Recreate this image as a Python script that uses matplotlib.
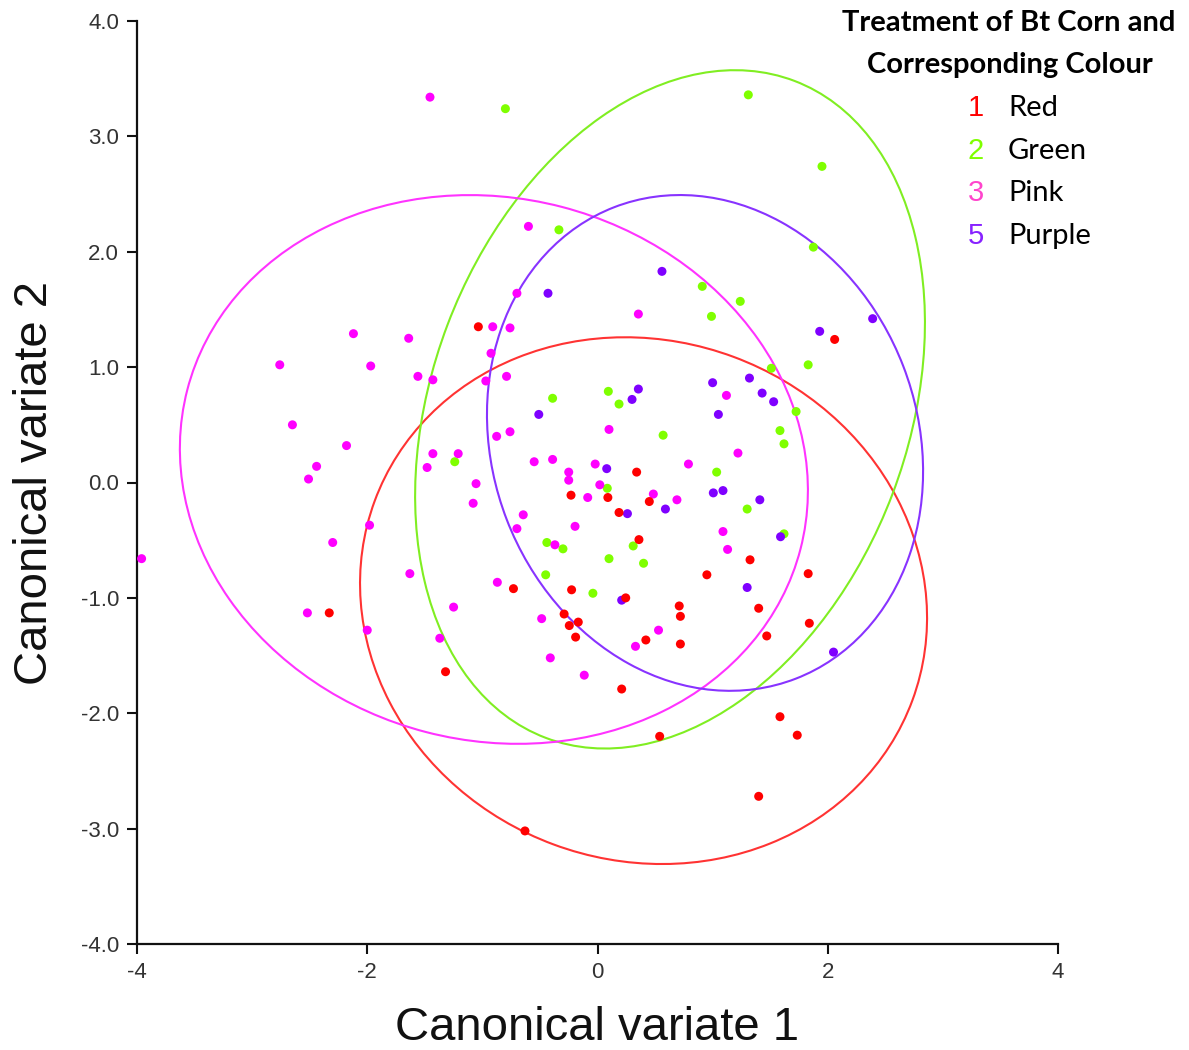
import matplotlib
matplotlib.use("Agg")
import matplotlib.pyplot as plt
from matplotlib.patches import Ellipse

plt.rcParams['axes.unicode_minus'] = False

# ---------------- data ----------------
red_x = [-1.035, 2.06, -0.73, -2.33, -1.32, 0.34, -0.23, 0.09, 0.45, 0.187, 0.36, 0.95,
         -0.225, 0.245, 0.71, 0.72, -0.29, -0.245, -0.167, -0.19, 0.42, 0.72, 0.21,
         1.325, 1.83, 1.40, 1.84, 1.47, 1.585, 1.735, 1.40, -0.63, 0.54]
red_y = [1.35, 1.24, -0.92, -1.13, -1.64, 0.09, -0.11, -0.13, -0.165, -0.26, -0.495, -0.80,
         -0.93, -1.0, -1.07, -1.16, -1.14, -1.24, -1.21, -1.34, -1.365, -1.40, -1.79,
         -0.67, -0.79, -1.09, -1.22, -1.33, -2.03, -2.19, -2.72, -3.02, -2.20]

green_x = [-0.80, -1.24, -0.335, 0.91, 0.99, -0.39, 0.094, 0.187, 0.57, 1.035, 0.085,
           -0.44, -0.30, 0.31, 0.10, 0.40, -0.45, -0.04, 1.31, 1.95, 1.875, 1.24, 1.83,
           1.51, 1.725, 1.585, 1.62, 1.30, 1.62]
green_y = [3.24, 0.18, 2.19, 1.70, 1.44, 0.73, 0.79, 0.68, 0.41, 0.09, -0.05,
           -0.52, -0.575, -0.55, -0.66, -0.70, -0.80, -0.96, 3.36, 2.74, 2.04, 1.57, 1.02,
           0.99, 0.615, 0.45, 0.335, -0.23, -0.445]

pink_x = [-1.455, -0.60, -0.70, -0.91, -0.76, -2.12, -1.64, -2.76, -1.97, -0.925, -1.56,
          -1.43, -0.97, -0.79, -2.65, -2.18, -2.44, -2.51, -1.43, -1.21, -1.48, -1.055,
          -1.08, -0.876, -0.76, -0.645, -0.70, -1.98, -2.30, -3.96, -1.63, -0.87, -2.52,
          -1.25, -2.00, -1.37, 0.355, 0.10, -0.55, -0.39, -0.02, 0.79, -0.25, -0.25, 0.02,
          -0.085, 0.485, 0.69, -0.195, -0.37, -0.485, 0.53, 0.33, -0.41, -0.115, 1.12,
          1.22, 1.09, 1.13]
pink_y = [3.34, 2.22, 1.64, 1.35, 1.34, 1.29, 1.25, 1.02, 1.01, 1.12, 0.92,
          0.89, 0.88, 0.92, 0.50, 0.32, 0.14, 0.03, 0.25, 0.25, 0.13, -0.01,
          -0.18, 0.40, 0.44, -0.28, -0.40, -0.37, -0.52, -0.66, -0.79, -0.865, -1.13,
          -1.08, -1.28, -1.35, 1.46, 0.46, 0.18, 0.20, 0.16, 0.16, 0.09, 0.02, -0.02,
          -0.13, -0.10, -0.15, -0.38, -0.54, -1.18, -1.28, -1.42, -1.52, -1.67, 0.755,
          0.255, -0.425, -0.58]

purple_x = [0.56, -0.43, 0.355, 0.30, 1.0, 1.05, -0.51, 0.08, 1.006, 0.59, 0.26, 0.21,
            2.39, 1.93, 1.32, 1.43, 1.53, 1.09, 1.41, 1.59, 1.30, 2.05]
purple_y = [1.83, 1.64, 0.81, 0.72, 0.865, 0.59, 0.59, 0.12, -0.09, -0.23, -0.27, -1.02,
            1.42, 1.31, 0.905, 0.775, 0.70, -0.07, -0.15, -0.47, -0.91, -1.47]

# ellipses: centre x, centre y, semi-major, semi-minor, angle (deg)
ell_red = (0.40, -1.024, 2.49, 2.253, -20.3)
ell_green = (0.63, 0.634, 3.045, 2.067, 69.2)
ell_pink = (-0.90, 0.113, 2.751, 2.351, -14.5)
ell_purple = (0.934, 0.343, 2.19, 1.846, 111.1)

x_ticks = [-4, -2, 0, 2, 4]
x_tick_labels = ['-4', '-2', '0', '2', '4']
y_ticks = [-4, -3, -2, -1, 0, 1, 2, 3, 4]
y_tick_labels = ['-4.0', '-3.0', '-2.0', '-1.0', '0.0', '1.0', '2.0', '3.0', '4.0']

legend_title = ['Treatment of Bt Corn and', 'Corresponding Colour']
legend_nums = ['1', '2', '3', '5']
legend_names = ['Red', 'Green', 'Pink', 'Purple']

# ---------------- styles ----------------
c_red, c_green, c_pink, c_purple = '#FF0000', '#7FFF00', '#FF00FF', '#7F00FF'
l_red, l_green, l_pink, l_purple = '#FF3333', '#80EE22', '#FF33FF', '#8833FF'

W, H = 1189, 1050
fig = plt.figure(figsize=(W / 100, H / 100), dpi=100)
ax = fig.add_axes([137 / W, 1 - 944 / H, (1058 - 137) / W, (944 - 21) / H])
ax.set_xlim(-4, 4)
ax.set_ylim(-4, 4)

for e, lc in [(ell_red, l_red), (ell_green, l_green), (ell_pink, l_pink), (ell_purple, l_purple)]:
    ax.add_patch(Ellipse((e[0], e[1]), 2 * e[2], 2 * e[3], angle=e[4],
                         fill=False, edgecolor=lc, linewidth=1.5, zorder=2))

ms = 42
ax.scatter(green_x, green_y, s=ms, color=c_green, edgecolors='none', zorder=3)
ax.scatter(pink_x, pink_y, s=ms, color=c_pink, edgecolors='none', zorder=4)
ax.scatter(purple_x, purple_y, s=ms, color=c_purple, edgecolors='none', zorder=5)
ax.scatter(red_x, red_y, s=ms, color=c_red, edgecolors='none', zorder=6)

for s in ['top', 'right']:
    ax.spines[s].set_visible(False)
for s in ['left', 'bottom']:
    ax.spines[s].set_linewidth(1.6)
    ax.spines[s].set_color('#111111')

tick_font = ['Liberation Sans Narrow', 'Liberation Sans', 'DejaVu Sans']
ax.set_xticks(x_ticks)
ax.set_xticklabels(x_tick_labels, family=tick_font, fontsize=16, color='#333333')
ax.set_yticks(y_ticks)
ax.set_yticklabels(y_tick_labels, family=tick_font, fontsize=16, color='#333333')
ax.tick_params(direction='out', length=7, width=1.5, color='#111111', pad=6)

fig.text(597 / W, 1 - 1028 / H, 'Canonical variate 1', ha='center', va='center',
         family=['Liberation Sans', 'DejaVu Sans'], fontsize=34, color='#111111')
fig.text(35 / W, 1 - 483 / H, 'Canonical variate 2', ha='center', va='center', rotation=90,
         family=['Liberation Sans', 'DejaVu Sans'], fontsize=34, color='#111111')

leg_font = ['Lato', 'DejaVu Sans']
fig.text(1009 / W, 1 - 23 / H, legend_title[0], ha='center', va='center',
         family=leg_font, fontweight='bold', fontsize=21, color='black')
fig.text(1010 / W, 1 - 65 / H, legend_title[1], ha='center', va='center',
         family=leg_font, fontweight='bold', fontsize=21, color='black')
num_cols = [c_red, c_green, '#FF44CC', '#8822FF']
row_y = [108, 151, 193, 236]
for n, name, col, ry in zip(legend_nums, legend_names, num_cols, row_y):
    fig.text(976 / W, 1 - ry / H, n, ha='center', va='center',
             family=['Liberation Sans', 'DejaVu Sans'], fontsize=21, color=col)
    fig.text(1008 / W, 1 - ry / H, name, ha='left', va='center',
             family=leg_font, fontsize=21, color='black')

fig.savefig('out.png', dpi=100)
